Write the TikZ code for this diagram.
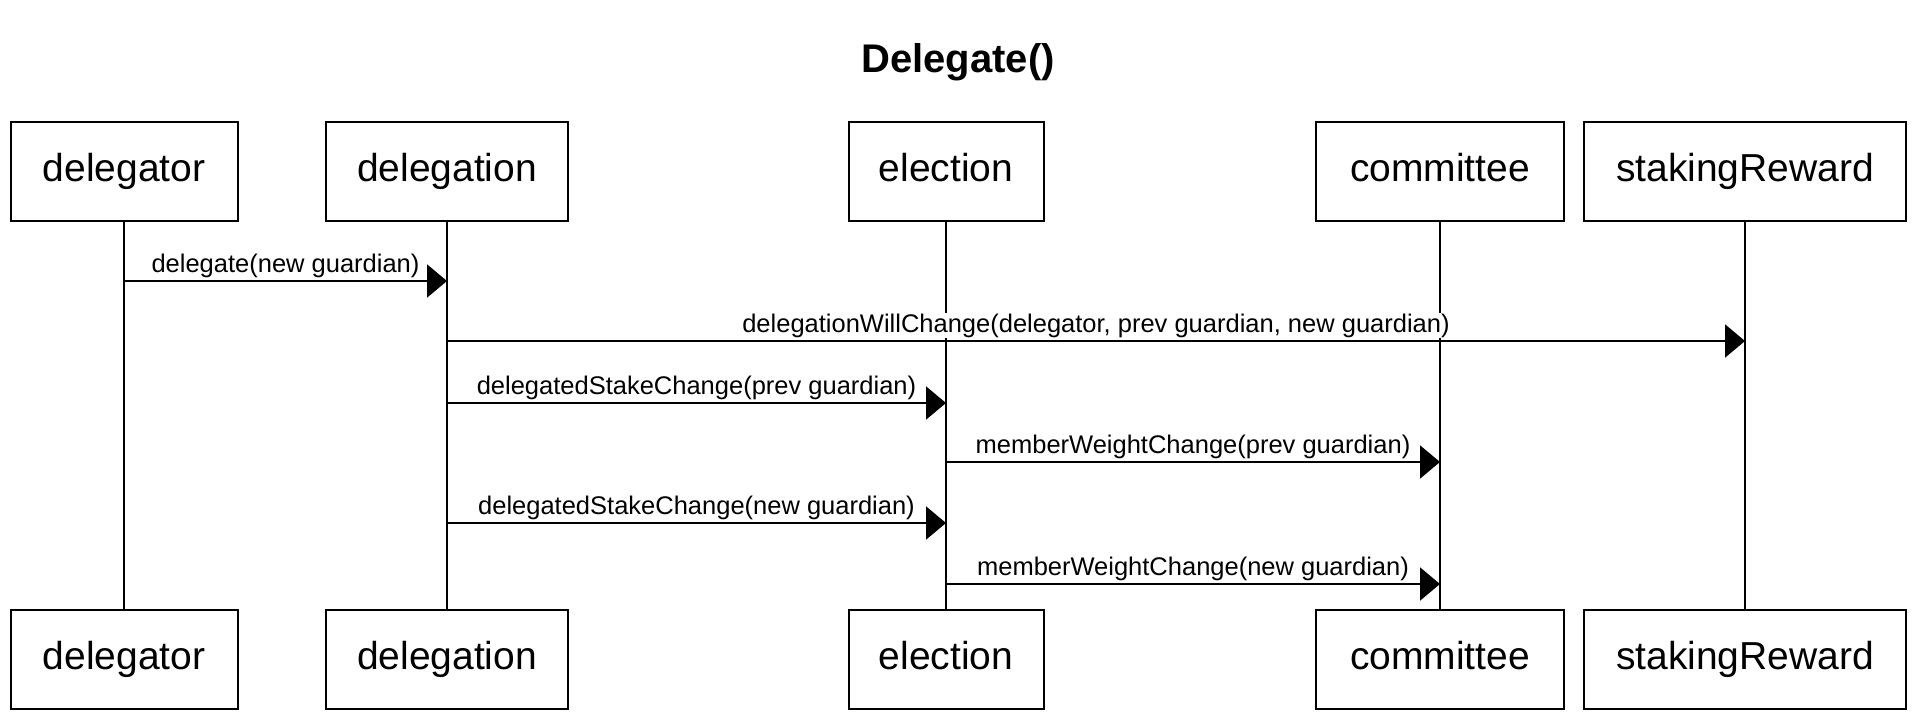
\documentclass[tikz,border=0pt]{standalone}
\usepackage{fontspec}
\setmainfont{Liberation Sans}
\usetikzlibrary{arrows.meta}
\begin{document}
\begin{tikzpicture}[x=1pt,y=-1pt,
  box/.style={draw,line width=2pt,minimum height=99pt,inner sep=0pt,text height=28pt,text depth=8pt,font=\fontsize{39}{47}\selectfont},
  life/.style={line width=2pt},
  msg/.style={line width=2.2pt,-{Triangle[length=20pt,width=33pt]}},
  lbl/.style={fill=white,inner sep=1pt,anchor=base,yshift=9pt,font=\fontsize{25.5}{30}\selectfont}]
\useasboundingbox (0,0) rectangle (1922,722);
\node[font=\bfseries\fontsize{40}{48}\selectfont,anchor=base,inner sep=0pt] (title) at (958,73) {Delegate()};
% top boxes
\node[box,minimum width=227pt] (t1) at (124,171.5) {delegator};
\node[box,minimum width=242pt] (t2) at (447,171.5) {delegation};
\node[box,minimum width=195pt] (t3) at (946,171.5) {election};
\node[box,minimum width=248pt] (t4) at (1440,171.5) {committee};
\node[box,minimum width=322pt] (t5) at (1745,171.5) {stakingReward};
% bottom boxes
\node[box,minimum width=227pt] (b1) at (124,659.5) {delegator};
\node[box,minimum width=242pt] (b2) at (447,659.5) {delegation};
\node[box,minimum width=195pt] (b3) at (946,659.5) {election};
\node[box,minimum width=248pt] (b4) at (1440,659.5) {committee};
\node[box,minimum width=322pt] (b5) at (1745,659.5) {stakingReward};
% lifelines
\foreach \i in {1,...,5} {\draw[life] (t\i) -- (b\i);}
% message levels
\coordinate (y1) at (0,281);
\coordinate (y2) at (0,341);
\coordinate (y3) at (0,403);
\coordinate (y4) at (0,462);
\coordinate (y5) at (0,523);
\coordinate (y6) at (0,584);
% messages
\draw[msg] (t1 |- y1) -- (t2 |- y1) node[midway,lbl] {delegate(new guardian)};
\draw[msg] (t2 |- y2) -- (t5 |- y2) node[midway,lbl] {delegationWillChange(delegator, prev guardian, new guardian)};
\draw[msg] (t2 |- y3) -- (t3 |- y3) node[midway,lbl] {delegatedStakeChange(prev guardian)};
\draw[msg] (t3 |- y4) -- (t4 |- y4) node[midway,lbl] {memberWeightChange(prev guardian)};
\draw[msg] (t2 |- y5) -- (t3 |- y5) node[midway,lbl] {delegatedStakeChange(new guardian)};
\draw[msg] (t3 |- y6) -- (t4 |- y6) node[midway,lbl] {memberWeightChange(new guardian)};
\end{tikzpicture}
\end{document}
